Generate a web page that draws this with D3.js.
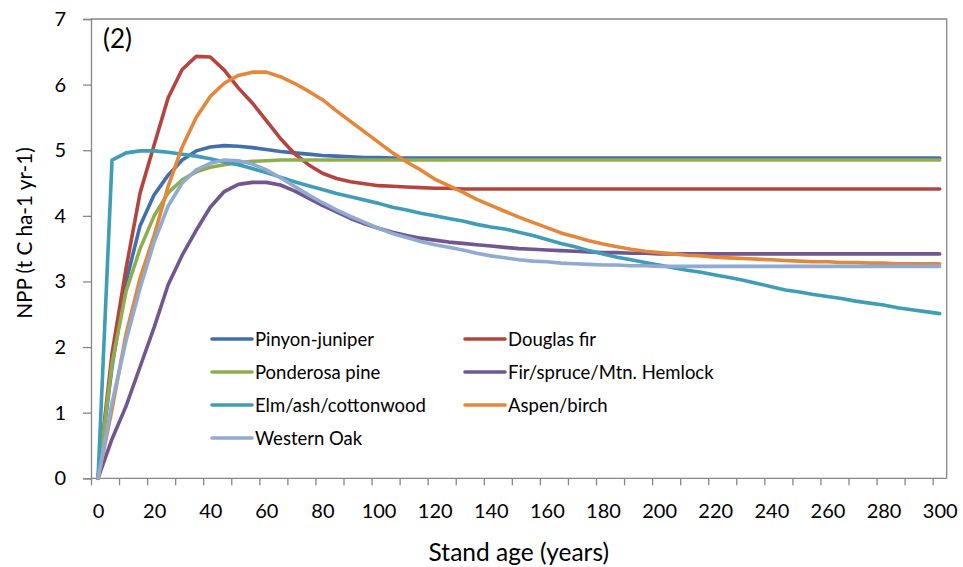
<!DOCTYPE html>
<html><head><meta charset="utf-8">
<script src="https://cdn.jsdelivr.net/npm/d3@7"></script>
<style>
html,body{margin:0;padding:0;background:#fff;}
text{font-family:Lato,"Open Sans",sans-serif;fill:#000;}
</style></head>
<body><svg id="c" width="963" height="567"></svg>
<script>
// ---- data ----
const standAge = d3.range(0, 301, 5); // categories: 0,5,...,300 years
const xTickLabels = [0,20,40,60,80,100,120,140,160,180,200,220,240,260,280,300];
const yTickLabels = [0,1,2,3,4,5,6,7];
const seriesNames = ["Pinyon-juniper","Douglas fir","Ponderosa pine","Fir/spruce/Mtn. Hemlock","Elm/ash/cottonwood","Aspen/birch","Western Oak"];
const pinyonJuniper = [0,1.7,3.0,3.85,4.32,4.62,4.85,4.99,5.05,5.07,5.06,5.04,5.01,4.98,4.96,4.94,4.92,4.91,4.90,4.89,4.89,4.88,4.88,4.88,4.88,4.88,4.88,4.88,4.88,4.88,4.88,4.88,4.88,4.88,4.88,4.88,4.88,4.88,4.88,4.88,4.88,4.88,4.88,4.88,4.88,4.88,4.88,4.88,4.88,4.88,4.88,4.88,4.88,4.88,4.88,4.88,4.88,4.88,4.88,4.88,4.88];
const douglasFir = [0,1.9,3.2,4.35,5.08,5.8,6.23,6.43,6.42,6.22,5.95,5.72,5.45,5.18,4.95,4.78,4.65,4.57,4.52,4.49,4.46,4.45,4.44,4.43,4.42,4.42,4.41,4.41,4.41,4.41,4.41,4.41,4.41,4.41,4.41,4.41,4.41,4.41,4.41,4.41,4.41,4.41,4.41,4.41,4.41,4.41,4.41,4.41,4.41,4.41,4.41,4.41,4.41,4.41,4.41,4.41,4.41,4.41,4.41,4.41,4.41];
const ponderosaPine = [0,1.75,2.85,3.5,4.0,4.35,4.55,4.67,4.74,4.78,4.81,4.83,4.84,4.85,4.85,4.85,4.85,4.85,4.85,4.85,4.85,4.85,4.85,4.85,4.85,4.85,4.85,4.85,4.85,4.85,4.85,4.85,4.85,4.85,4.85,4.85,4.85,4.85,4.85,4.85,4.85,4.85,4.85,4.85,4.85,4.85,4.85,4.85,4.85,4.85,4.85,4.85,4.85,4.85,4.85,4.85,4.85,4.85,4.85,4.85,4.85];
const firSpruce = [0,0.6,1.1,1.7,2.3,2.95,3.4,3.78,4.13,4.37,4.48,4.51,4.51,4.47,4.38,4.27,4.16,4.06,3.96,3.88,3.81,3.75,3.70,3.66,3.63,3.60,3.58,3.56,3.54,3.52,3.50,3.49,3.48,3.47,3.46,3.45,3.44,3.44,3.43,3.43,3.42,3.42,3.42,3.42,3.42,3.42,3.42,3.42,3.42,3.42,3.42,3.42,3.42,3.42,3.42,3.42,3.42,3.42,3.42,3.42,3.42];
const elmAsh = [0,4.85,4.96,4.99,4.99,4.97,4.94,4.91,4.87,4.82,4.78,4.72,4.66,4.59,4.52,4.46,4.40,4.34,4.29,4.24,4.19,4.13,4.09,4.04,4.00,3.96,3.92,3.87,3.83,3.80,3.75,3.70,3.64,3.58,3.53,3.47,3.42,3.37,3.33,3.29,3.25,3.21,3.17,3.14,3.10,3.06,3.02,2.97,2.92,2.87,2.84,2.80,2.77,2.74,2.70,2.67,2.64,2.60,2.57,2.54,2.51];
const aspenBirch = [0,1.05,2.2,3.05,3.7,4.45,5.05,5.5,5.82,6.02,6.14,6.19,6.19,6.12,6.02,5.90,5.77,5.60,5.44,5.28,5.12,4.96,4.82,4.70,4.56,4.46,4.36,4.25,4.16,4.07,3.98,3.90,3.82,3.74,3.68,3.62,3.57,3.53,3.49,3.46,3.44,3.42,3.40,3.39,3.37,3.36,3.35,3.34,3.33,3.32,3.31,3.30,3.30,3.29,3.29,3.28,3.28,3.27,3.27,3.27,3.27];
const westernOak = [0,1.15,2.1,2.9,3.6,4.15,4.5,4.7,4.8,4.85,4.84,4.79,4.70,4.58,4.45,4.32,4.20,4.09,3.99,3.90,3.81,3.73,3.67,3.61,3.56,3.52,3.48,3.43,3.39,3.36,3.33,3.31,3.30,3.28,3.27,3.26,3.25,3.25,3.24,3.24,3.23,3.23,3.23,3.23,3.23,3.23,3.23,3.23,3.23,3.23,3.23,3.23,3.23,3.23,3.23,3.23,3.23,3.23,3.23,3.23,3.23];
const seriesValues = [pinyonJuniper,douglasFir,ponderosaPine,firSpruce,elmAsh,aspenBirch,westernOak];
const seriesColors = ["#4170AD","#B5443F","#8DAD4E","#71568F","#3F9DB5","#E3873A","#90AAD2"];

// ---- layout ----
const svg = d3.select("#c");
const L = 91, R = 946.7, T = 19, B = 478.3;
const step = 5;
const x = d3.scaleLinear().domain([-step/2, 300 + step/2]).range([L, R]);
const y = d3.scaleLinear().domain([0, 7]).range([B, T]);
const axisColor = "#868686";

// plot border (top/right)
svg.append("path").attr("d", `M${L},${T}H${R}V${B}`).attr("fill","none").attr("stroke",axisColor).attr("stroke-width",1.3);

// y axis
const yAx = svg.append("g").attr("transform",`translate(${L},0)`)
  .call(d3.axisLeft(y).tickValues(yTickLabels).tickSize(8).tickPadding(17).tickFormat(d3.format("d")));
yAx.select(".domain").attr("stroke",axisColor).attr("stroke-width",1.3);
yAx.selectAll(".tick line").attr("stroke",axisColor).attr("stroke-width",1.3);
yAx.selectAll("text").style("font-size","20px").attr("fill","#000").style("font-family","Lato,sans-serif");

// x axis: tick marks at category boundaries every 2 categories
const boundaryTicks = d3.range(0, standAge.length, 2).map(i => standAge[i] - step/2);
const xAxTicks = svg.append("g").attr("transform",`translate(0,${B})`)
  .call(d3.axisBottom(x).tickValues(boundaryTicks).tickSize(7).tickFormat(""));
xAxTicks.select(".domain").attr("d", `M${L},0H${R}`).attr("stroke",axisColor).attr("stroke-width",1.3);
xAxTicks.selectAll(".tick line").attr("stroke",axisColor).attr("stroke-width",1.3);
const xAxLab = svg.append("g").attr("transform",`translate(0,${B})`)
  .call(d3.axisBottom(x).tickValues(xTickLabels).tickSize(0).tickPadding(26).tickFormat(d3.format("d")));
xAxLab.select(".domain").remove();
xAxLab.selectAll("text").style("font-size","20px").attr("fill","#000").style("font-family","Lato,sans-serif");

// titles
svg.append("text").attr("x",(L+R)/2).attr("y",561).attr("text-anchor","middle").style("font-size","24.5px").text("Stand age (years)");
svg.append("text").attr("transform",`translate(32,233) rotate(-90)`).attr("text-anchor","middle").style("font-size","20.7px").text("NPP (t C ha-1 yr-1)");
svg.append("text").attr("x",103).attr("y",48).style("font-size","26px").text("(2)");

// lines
const line = d3.line().x((d,i)=>x(standAge[i])).y(d=>y(d));
seriesValues.forEach((vals,k)=>{
  svg.append("path").datum(vals).attr("d",line).attr("fill","none")
    .attr("stroke",seriesColors[k]).attr("stroke-width",3.6)
    .attr("stroke-linejoin","round").attr("stroke-linecap","round");
});

// legend
const legPos = [[212,339],[465,339],[212,372],[465,372],[212,405],[465,405],[212,438]];
seriesNames.forEach((n,k)=>{
  const [lx,ly] = legPos[k];
  svg.append("line").attr("x1",lx).attr("x2",lx+40).attr("y1",ly).attr("y2",ly)
    .attr("stroke",seriesColors[k]).attr("stroke-width",3.6).attr("stroke-linecap","round");
  svg.append("text").attr("x",lx+43).attr("y",ly+7).style("font-size","18.5px").text(n);
});
</script></body></html>
